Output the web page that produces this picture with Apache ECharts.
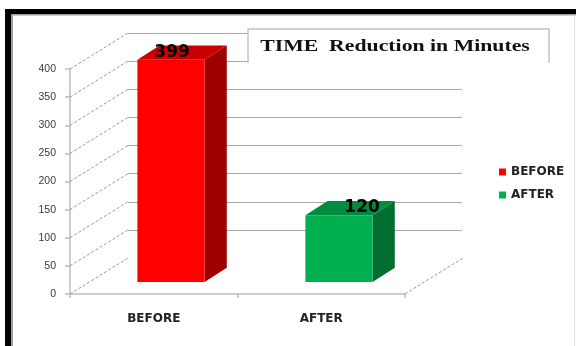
<!DOCTYPE html>
<html>
<head>
<meta charset="utf-8">
<script src="https://cdn.jsdelivr.net/npm/echarts@6/dist/echarts.min.js"></script>
<style>
  html, body { margin: 0; padding: 0; background: #fff; }
  #chart { width: 576px; height: 346px; }
</style>
</head>
<body>
<div id="chart"></div>
<script>
// Chart data
const categories = ['BEFORE', 'AFTER'];
const minutes = [399, 120];
const yTicks = [0, 50, 100, 150, 200, 250, 300, 350, 400];
const titleText = 'TIME  Reduction in Minutes';

// Face colours of each 3D column (front, side, top)
const palette = {
  BEFORE: { front: '#FF0000', side: '#9E0000', top: '#C80000', labelDx: -10 },
  AFTER:  { front: '#00B050', side: '#006E30', top: '#008C3E', labelDx: 12 }
};

// Layout of the pseudo-3D box: front frame, wall depth offset, column plane
const FRONT = { left: 70, top: 69, width: 335, height: 225 };
const DEPTH_X = 58, DEPTH_Y = -36;
const COL = { left: 87, width: 336, base: 282, pxPerUnit: 0.557 };
const yMax = yTicks[yTicks.length - 1];
const yStep = yTicks[1] - yTicks[0];

const chart = echarts.init(document.getElementById('chart'));

// Dashed side-wall lines joining each front tick to the back wall
function sideWallItem(params, api) {
  const cs = params.coordSys;
  const y = api.coord([0, api.value(0)])[1];
  return {
    type: 'line',
    shape: { x1: cs.x, y1: y, x2: cs.x + DEPTH_X, y2: y + DEPTH_Y },
    style: { stroke: '#9a9a9a', lineWidth: 1, lineDash: [3, 2] }
  };
}

// Dashed right floor edge
function floorEdgeItem(params, api) {
  const cs = params.coordSys;
  const y = api.coord([0, 0])[1];
  const x = cs.x + cs.width;
  return {
    type: 'line',
    shape: { x1: x, y1: y, x2: x + DEPTH_X, y2: y + DEPTH_Y },
    style: { stroke: '#9a9a9a', lineWidth: 1, lineDash: [3, 2] }
  };
}

// 3D column: front rectangle, side and top parallelograms, value label
function columnItem(params, api) {
  const name = params.seriesName;
  const c = palette[name];
  const base = api.coord([api.value(0), 0]);
  const top = api.coord([api.value(0), api.value(1)]);
  const bw = api.size([1, 0])[0] * 0.4;
  const x0 = base[0] - bw / 2, x1 = base[0] + bw / 2;
  const dx = bw * 0.33, dy = -dx * 0.64;
  const yt = top[1], yb = base[1];
  return {
    type: 'group',
    children: [
      { type: 'polygon', shape: { points: [[x1, yt], [x1 + dx, yt + dy], [x1 + dx, yb + dy], [x1, yb]] },
        style: { fill: c.side } },
      { type: 'polygon', shape: { points: [[x0, yt], [x0 + dx, yt + dy], [x1 + dx, yt + dy], [x1, yt]] },
        style: { fill: c.top } },
      { type: 'rect', shape: { x: x0, y: yt, width: bw, height: yb - yt },
        style: { fill: c.front } },
      { type: 'text', x: base[0] + dx / 2 + c.labelDx, y: yt + dy / 2,
        style: { text: String(api.value(1)), fill: '#000',
                 font: 'bold 17px "DejaVu Sans"', align: 'center', verticalAlign: 'middle' } }
    ]
  };
}

const option = {
  animation: false,
  backgroundColor: '#fff',
  grid: [
    { left: FRONT.left, top: FRONT.top, width: FRONT.width, height: FRONT.height },
    { left: FRONT.left + DEPTH_X, top: FRONT.top + DEPTH_Y, width: FRONT.width - 1, height: FRONT.height },
    { left: COL.left, top: COL.base - yMax * COL.pxPerUnit, width: COL.width, height: yMax * COL.pxPerUnit }
  ],
  xAxis: [
    { type: 'category', gridIndex: 0, data: categories, boundaryGap: true,
      axisLine: { lineStyle: { color: '#bdbdbd', width: 1.5 } },
      axisTick: { show: true, length: 4, lineStyle: { color: '#bdbdbd', width: 1.5 } },
      axisLabel: { margin: 19, color: '#222', fontFamily: 'DejaVu Sans', fontWeight: 'bold', fontSize: 12 } },
    { type: 'category', gridIndex: 1, data: categories, show: false },
    { type: 'category', gridIndex: 2, data: categories, show: false }
  ],
  yAxis: [
    { type: 'value', gridIndex: 0, min: 0, max: yMax, interval: yStep,
      axisLine: { show: true, lineStyle: { color: '#bdbdbd', width: 1.5 } },
      axisTick: { show: true, length: 5, lineStyle: { color: '#bdbdbd', width: 1.5 } },
      axisLabel: { margin: 14, color: '#3a3a3a', fontFamily: 'Liberation Sans', fontSize: 10.5 },
      splitLine: { show: false } },
    { type: 'value', gridIndex: 1, min: 0, max: yMax, interval: yStep,
      axisLine: { show: false }, axisTick: { show: false }, axisLabel: { show: false },
      splitLine: { show: true, showMinLine: false, lineStyle: { color: '#a8a8a8', width: 1 } } },
    { type: 'value', gridIndex: 2, min: 0, max: yMax, show: false, splitLine: { show: false } }
  ],
  legend: {
    orient: 'vertical', left: 494, top: 161,
    itemWidth: 7, itemHeight: 7, itemGap: 11, icon: 'rect',
    data: categories,
    textStyle: { color: '#222', fontFamily: 'DejaVu Sans', fontWeight: 'bold', fontSize: 12 }
  },
  series: [
    { type: 'custom', name: 'sideWall', xAxisIndex: 0, yAxisIndex: 0, silent: true, z: 1,
      renderItem: sideWallItem, data: yTicks.map(v => [v]) },
    { type: 'custom', name: 'floorEdge', xAxisIndex: 0, yAxisIndex: 0, silent: true, z: 1,
      renderItem: floorEdgeItem, data: [[0]] },
    ...categories.map((name, i) => ({
      type: 'custom', name: name, xAxisIndex: 2, yAxisIndex: 2, z: 5,
      itemStyle: { color: palette[name].front },
      renderItem: columnItem,
      data: [[i, minutes[i]]]
    }))
  ],
  graphic: [
    // title box
    { type: 'rect', z: 10, shape: { x: 248, y: 29, width: 301, height: 34 }, style: { fill: '#fff' } },
    { type: 'polyline', z: 11, shape: { points: [[248, 63], [248, 29], [549, 29], [549, 63]] },
      style: { stroke: '#c4c4c4', lineWidth: 1.5, fill: null } },
    { type: 'text', z: 12, x: 395, y: 47, scaleX: 1.28, originX: 0, originY: 0,
      style: { text: titleText, fill: '#111', font: 'bold 17px "Liberation Serif"',
               align: 'center', verticalAlign: 'middle' } },
    // outer frame
    { type: 'rect', z: 20, shape: { x: 5, y: 9, width: 571, height: 5 }, style: { fill: '#000' } },
    { type: 'rect', z: 20, shape: { x: 5, y: 9, width: 6, height: 337 }, style: { fill: '#000' } },
    { type: 'rect', z: 20, shape: { x: 11, y: 14, width: 565, height: 1.5 }, style: { fill: '#a0a0a0' } },
    { type: 'rect', z: 20, shape: { x: 11, y: 14, width: 2, height: 332 }, style: { fill: '#a0a0a0' } },
    { type: 'rect', z: 20, shape: { x: 574, y: 15, width: 1, height: 331 }, style: { fill: '#e0e0e0' } }
  ]
};

chart.setOption(option);
</script>
</body>
</html>
